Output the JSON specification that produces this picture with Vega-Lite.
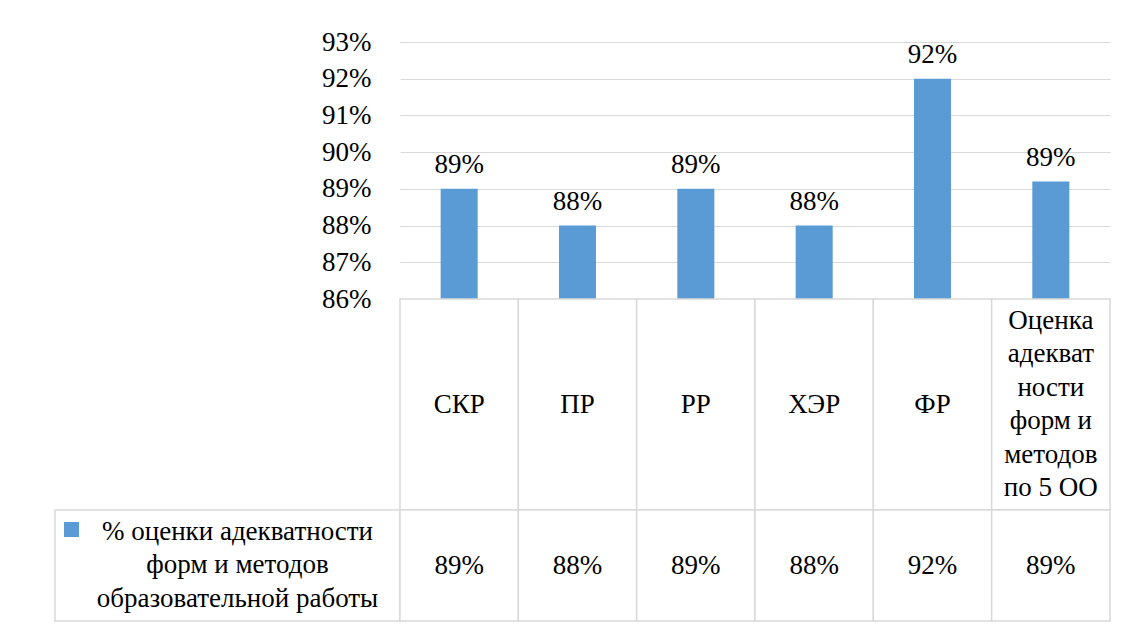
{
  "$schema": "https://vega.github.io/schema/vega-lite/v6.json",
  "padding": {"left": 54, "top": 28, "right": 10, "bottom": 5},
  "background": "white",
  "columns": 2,
  "spacing": 0,
  "bounds": "flush",
  "config": {"view": {"stroke": null}, "font": "'Liberation Serif', 'Times New Roman', Tinos, 'DejaVu Serif', serif"},
  "datasets": {
    "main": [
      {"cat": "СКР", "header": "СКР", "value": 89, "label": "89%"},
      {"cat": "ПР", "header": "ПР", "value": 88, "label": "88%"},
      {"cat": "РР", "header": "РР", "value": 89, "label": "89%"},
      {"cat": "ХЭР", "header": "ХЭР", "value": 88, "label": "88%"},
      {"cat": "ФР", "header": "ФР", "value": 92, "label": "92%"},
      {"cat": "Оценка адекватности форм и методов по 5 ОО", "header": "Оценка\nадекват\nности\nформ и\nметодов\nпо 5 ОО", "value": 89.2, "label": "89%"}
    ],
    "series": [
      {"series": "% оценки адекватности\nформ и методов\nобразовательной работы"}
    ]
  },
  "concat": [
    {
      "width": 345, "height": 257,
      "data": {"name": "series"},
      "mark": {"type": "text", "opacity": 0},
      "encoding": {"text": {"value": ""}}
    },
    {
      "width": 710, "height": 257,
      "data": {"name": "main"},
      "encoding": {
        "x": {"field": "cat", "type": "nominal", "sort": null, "axis": null,
              "scale": {"paddingInner": 0.687, "paddingOuter": 0.3435}},
        "y": {"field": "value", "type": "quantitative",
              "scale": {"domain": [86, 93], "zero": false, "nice": false},
              "axis": {"values": [86, 87, 88, 89, 90, 91, 92, 93], "labelExpr": "datum.value + '%'",
                       "grid": true, "gridColor": "#d9d9d9", "gridWidth": 1, "domain": false, "ticks": false,
                       "labelFont": "'Liberation Serif', 'Times New Roman', Tinos, 'DejaVu Serif', serif", "labelFontSize": 27, "labelColor": "black",
                       "labelPadding": 29, "title": null}}
      },
      "layer": [
        {"mark": {"type": "bar", "color": "#5b9bd5"}, "encoding": {"y2": {"datum": 86}}},
        {"mark": {"type": "text", "baseline": "alphabetic", "dy": -16, "fontSize": 27, "color": "black"},
         "encoding": {"text": {"field": "label"}}}
      ]
    },
    {
      "width": 345, "height": 211,
      "data": {"name": "series"},
      "mark": {"type": "text", "opacity": 0},
      "encoding": {"text": {"value": ""}}
    },
    {
      "width": 710, "height": 211,
      "data": {"name": "main"},
      "encoding": {
        "x": {"field": "cat", "type": "nominal", "sort": null, "axis": null,
              "scale": {"paddingInner": 0, "paddingOuter": 0}}
      },
      "layer": [
        {"mark": {"type": "rect", "fill": "white", "stroke": "#d9d9d9", "strokeWidth": 1.5}},
        {"transform": [{"filter": "indexof(datum.header, '\\n') < 0"}],
         "mark": {"type": "text", "fontSize": 27, "color": "black", "baseline": "middle"},
         "encoding": {"text": {"field": "header"}}},
        {"transform": [{"filter": "indexof(datum.header, '\\n') >= 0"}],
         "mark": {"type": "text", "fontSize": 27, "color": "black", "lineBreak": "\n", "lineHeight": 33.4, "baseline": "middle", "dy": -83.5},
         "encoding": {"text": {"field": "header"}}}
      ]
    },
    {
      "width": 345, "height": 111,
      "data": {"name": "series"},
      "view": {"stroke": "#d9d9d9", "strokeWidth": 1.5},
      "layer": [
        {"mark": {"type": "text", "fontSize": 27, "color": "black", "lineBreak": "\n", "lineHeight": 33.4, "baseline": "middle", "dx": 10, "dy": -33.4},
         "encoding": {"text": {"field": "series"}}},
        {"mark": {"type": "point", "shape": "square", "filled": true, "color": "#5b9bd5", "opacity": 1, "size": 225, "xOffset": -156, "yOffset": -36},
         "encoding": {}}
      ]
    },
    {
      "width": 710, "height": 111,
      "data": {"name": "main"},
      "encoding": {
        "x": {"field": "cat", "type": "nominal", "sort": null, "axis": null,
              "scale": {"paddingInner": 0, "paddingOuter": 0}}
      },
      "layer": [
        {"mark": {"type": "rect", "fill": "white", "stroke": "#d9d9d9", "strokeWidth": 1.5}},
        {"mark": {"type": "text", "fontSize": 27, "color": "black", "baseline": "middle"},
         "encoding": {"text": {"field": "label"}}}
      ]
    }
  ]
}
